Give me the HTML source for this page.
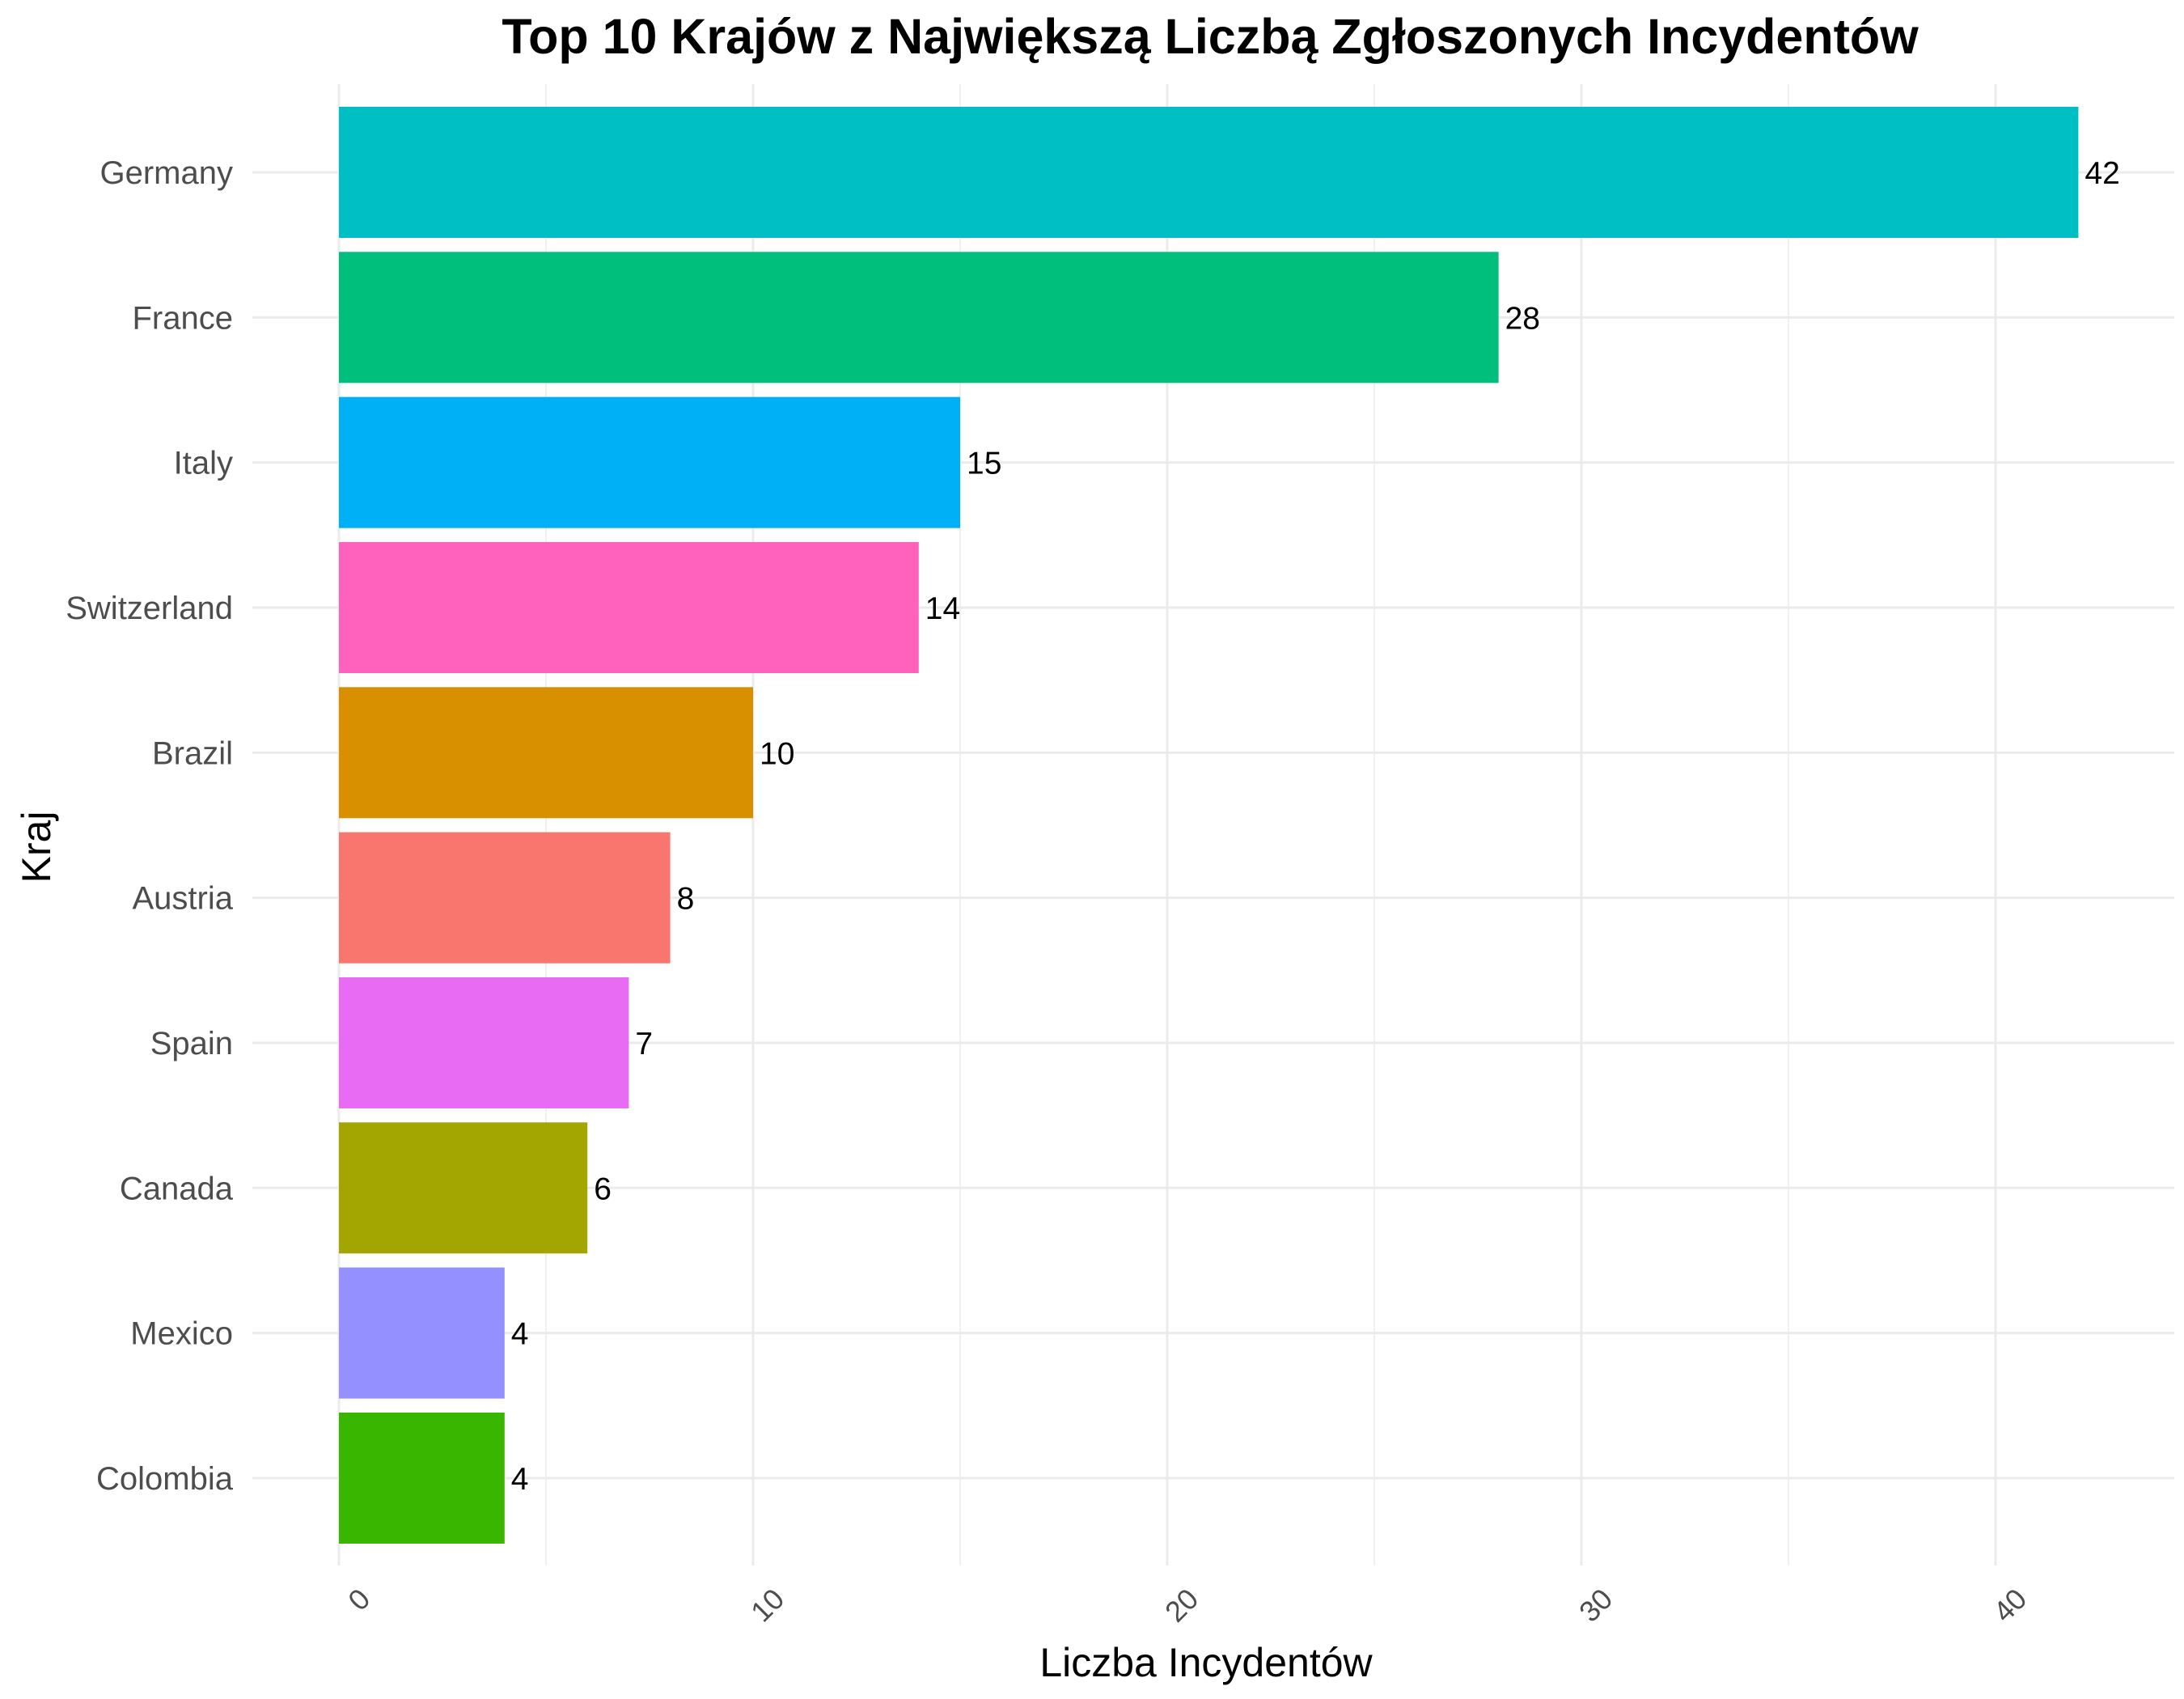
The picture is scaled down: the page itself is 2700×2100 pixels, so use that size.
<!DOCTYPE html>
<html><head><meta charset="utf-8"><style>
html,body{margin:0;padding:0;background:#fff}
svg{display:block;font-family:"Liberation Sans",Arial,sans-serif}
</style></head><body>
<svg id="chart" width="2700" height="2100" viewBox="0 0 2700 2100" xmlns="http://www.w3.org/2000/svg">
<rect width="2700" height="2100" fill="#fff"/>
<g id="grid"></g>
<g id="bars"></g>
<g id="labels"></g>
<text x="1496" y="66" text-anchor="middle" font-size="61" font-weight="bold" fill="#000">Top 10 Krajów z Największą Liczbą Zgłoszonych Incydentów</text>
<text x="1491" y="2072" text-anchor="middle" font-size="50" fill="#000">Liczba Incydentów</text>
<text transform="translate(62,1047) rotate(-90)" text-anchor="middle" font-size="50" fill="#000">Kraj</text>
</svg>
<script>
const categories = ["Germany","France","Italy","Switzerland","Brazil","Austria","Spain","Canada","Mexico","Colombia"];
const values = [42,28,15,14,10,8,7,6,4,4];
const colors = ["#00BFC4","#00BF7D","#00B0F6","#FF62BC","#D89000","#F8766D","#E76BF3","#A3A500","#9590FF","#39B600"];
const xTicks = [0,10,20,30,40];
const xMinor = [5,15,25,35];

const NS = "http://www.w3.org/2000/svg";
const x0 = 419, unit = 51.2, panelL = 312, panelR = 2688, panelT = 104, panelB = 1935;
const yTop = 213, step = 179.33, barH = 162;
const xs = v => x0 + v * unit;
const ys = i => yTop + i * step;
function mk(tag, attrs, parent){const e=document.createElementNS(NS,tag);for(const k in attrs)e.setAttribute(k,attrs[k]);parent.appendChild(e);return e;}
const grid=document.getElementById('grid'), bars=document.getElementById('bars'), labels=document.getElementById('labels');

xMinor.forEach(v=>{
  const l=mk('line',{x1:xs(v),x2:xs(v),y1:panelT,y2:panelB,stroke:'#ebebeb','stroke-width':1.5},grid);
  
  
});
xTicks.forEach(v=>{
  const l=mk('line',{x1:xs(v),x2:xs(v),y1:panelT,y2:panelB,stroke:'#ebebeb','stroke-width':3},grid);
  
  
  const t=mk('text',{transform:`translate(${xs(v)+22},${1960}) rotate(-45)`,'text-anchor':'end','dominant-baseline':'hanging','font-size':36,fill:'#4d4d4d'},labels);
  t.textContent=v;
  
  
});
categories.forEach((c,i)=>{
  const y=ys(i);
  const g=mk('line',{x1:panelL,x2:panelR,y1:y,y2:y,stroke:'#ebebeb','stroke-width':3},grid);
  
  
  const r=mk('rect',{x:xs(0),y:y-barH/2,width:xs(values[i])-xs(0),height:barH,fill:colors[i]},bars);
  
  
  const v=mk('text',{x:xs(values[i])+8,y:y+14,'font-size':39,fill:'#000'},labels);
  v.textContent=values[i];
  
  
  const t=mk('text',{x:288,y:y+14,'text-anchor':'end','font-size':40,fill:'#4d4d4d'},labels);
  t.textContent=c;
  
  
});
</script>
</body></html>
